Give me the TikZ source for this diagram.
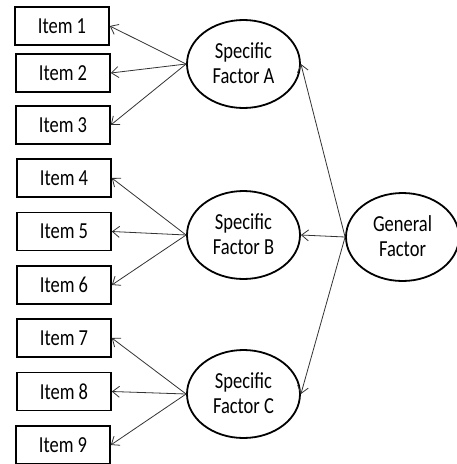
\documentclass[tikz,border=0pt]{standalone}
\usepackage{fontspec}
\setmainfont{Carlito}
\usetikzlibrary{arrows.meta,shapes.geometric}

% labels are set tall and narrow
\newcommand{\tallText}[1]{\scalebox{1}[1.24]{#1}}
\newcommand{\twoLines}[2]{\raisebox{-2.2pt}[\height][\depth]{\tallText{%
  \begin{tabular}{@{}c@{}}#1\\#2\end{tabular}}}}

\tikzset{
  itembox/.style={draw=black, line width=1.6pt, rectangle, minimum width=94pt,
    minimum height=38pt, inner sep=0pt, font=\fontsize{18.5}{19.4}\selectfont},
  factor/.style={draw=black, line width=1.8pt, ellipse, minimum width=113pt,
    minimum height=88pt, inner sep=0pt,
    font=\fontsize{18.5}{19.4}\selectfont},
  load/.style={draw=black!80, line width=0.8pt,
    -{Straight Barb[length=7pt,width=11pt,line width=0.8pt]}},
}

\begin{document}
\begin{tikzpicture}[x=1pt, y=-1pt]
  \useasboundingbox (0,0) rectangle (457,464);

  % observed items
  \node[itembox] (i1) at (62,26)    {\tallText{Item 1}};
  \node[itembox] (i2) at (63,73)    {\tallText{Item 2}};
  \node[itembox] (i3) at (63,125)   {\tallText{Item 3}};
  \node[itembox] (i4) at (64,178)   {\tallText{Item 4}};
  \node[itembox] (i5) at (64,231.5) {\tallText{Item 5}};
  \node[itembox] (i6) at (64,285)   {\tallText{Item 6}};
  \node[itembox] (i7) at (64,338)   {\tallText{Item 7}};
  \node[itembox] (i8) at (64,391.5) {\tallText{Item 8}};
  \node[itembox] (i9) at (63,445)   {\tallText{Item 9}};

  % latent factors
  \node[factor] (fa) at (243.5,64)  {\twoLines{Specific}{Factor A}};
  \node[factor] (fb) at (243.5,235) {\twoLines{Specific}{Factor B}};
  \node[factor] (fc) at (243.5,394) {\twoLines{Specific}{Factor C}};
  \node[factor] (g)  at (402.5,237) {\twoLines{General}{Factor}};

  % loadings of the specific factors
  \foreach \it in {i1,i2,i3} \draw[load] (fa.west) -- (\it.east);
  \foreach \it in {i4,i5,i6} \draw[load] (fb.west) -- (\it.east);
  \foreach \it in {i7,i8,i9} \draw[load] (fc.west) -- (\it.east);

  % loadings of the general factor
  \foreach \f in {fa,fb,fc} \draw[load] (g.west) -- (\f.east);
\end{tikzpicture}
\end{document}
